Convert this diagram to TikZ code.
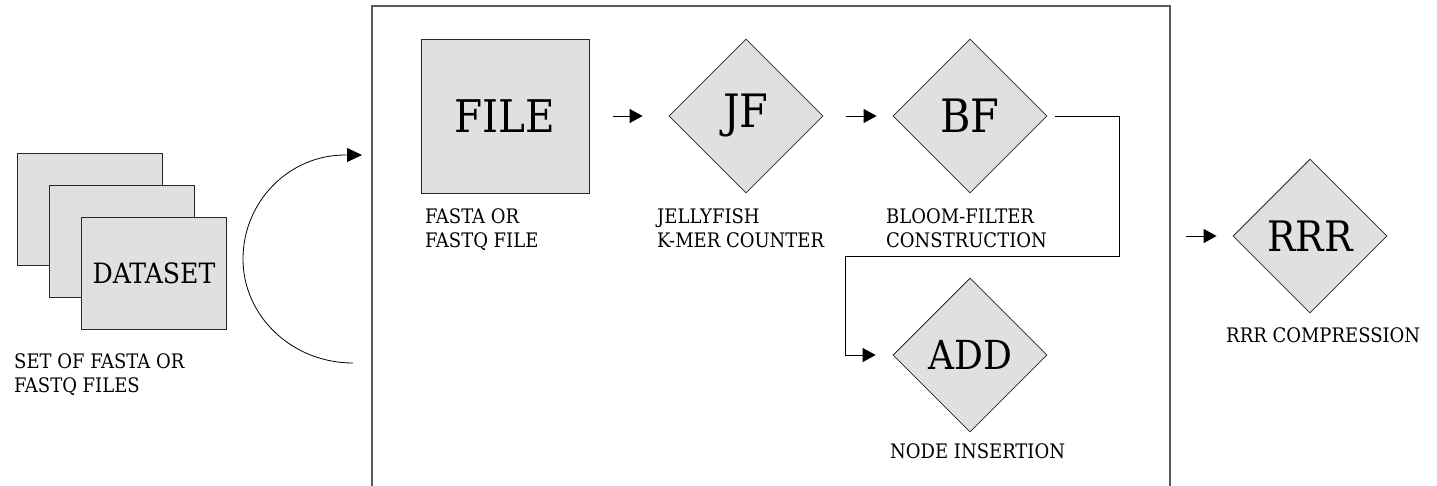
\documentclass[tikz,border=0pt]{standalone}
\usepackage{fontspec}
\setmainfont{DejaVu Serif Condensed}
\usetikzlibrary{arrows.meta,shapes.geometric}
\definecolor{shapefill}{RGB}{224,224,224}
\definecolor{shapeline}{RGB}{40,40,40}
\definecolor{frameline}{RGB}{90,90,90}
\tikzset{
	sheet/.style={draw=shapeline,fill=shapefill,line width=0.8pt,minimum width=145pt,minimum height=112pt,inner sep=0pt},
	stage/.style={diamond,aspect=1,draw=shapeline,fill=shapefill,line width=0.8pt,minimum width=154pt,minimum height=154pt,inner sep=0pt},
	caption/.style={anchor=north west,inner sep=0pt,align=left,font=\fontsize{20}{24}\selectfont},
	arr/.style={-{Triangle[length=13pt,width=14pt]},line width=1pt},
}

\begin{document}
\begin{tikzpicture}[x=1pt,y=-1pt]
		%%%%% START %%%%%
		\useasboundingbox (0,0) rectangle (1437,485);
		\clip (0,0) rectangle (1437,485);
		
		% input files
		\node[sheet] (sheetA) at (89.5,209) {};
		\node[sheet] (sheetB) at (121.5,241) {};
		\node[sheet,font=\fontsize{28}{32}\selectfont] (dataset) at (154,273) {DATASET};
		\node[caption] (datasetlbl) at (14,353) {SET OF FASTA OR\\FASTQ FILES};
		
		% loop over the files
		\coordinate (loopstart) at (353,363);
		\coordinate (loopend) at (362,155);
		\draw[-{Triangle[length=15pt,width=14pt]},line width=0.8pt] (loopstart) .. controls (292.3,363) and (243,316.4) .. (243,259) .. controls (243,201.6) and (289,155) .. (345,155) -- (loopend);
		
		% per file
		\draw[draw=frameline,line width=1.5pt] (372,6) rectangle (1170,500);
		
		\node[sheet,minimum width=168pt,minimum height=154pt,font=\fontsize{45}{50}\selectfont] (file) at (505,116) {FILE};
		\node[caption] (filelbl) at (425,208) {FASTA OR\\FASTQ FILE};
		
		\node[stage,font=\fontsize{46}{50}\selectfont] (jf) at (746,116) {JF};
		\node[caption] (jflbl) at (657,208) {JELLYFISH\\K-MER COUNTER};
		
		\node[stage,font=\fontsize{46}{50}\selectfont] (bf) at (970,116) {BF};
		\node[caption] (bflbl) at (886,208) {BLOOM-FILTER\\CONSTRUCTION};
		
		\node[stage,font=\fontsize{40}{44}\selectfont] (add) at (970,355) {ADD};
		\node[caption] (addlbl) at (890,443) {NODE INSERTION};
		
		\draw[arr] ([xshift=24pt]file.east) -- ([xshift=-26pt]jf.west);
		\draw[arr] ([xshift=23pt]jf.east) -- ([xshift=-16pt]bf.west);
		
		\coordinate (bendA) at (1119,256);
		\coordinate (bendB) at (845,256);
		\draw[arr] ([xshift=8pt]bf.east) -| (bendA) -- (bendB) |- ([xshift=-17pt]add.west);
		
		% after all files
		\node[stage,font=\fontsize{42}{46}\selectfont] (rrr) at (1310,236) {RRR};
		\node[caption] (rrrlbl) at (1226,327) {RRR COMPRESSION};
		\draw[arr] ([xshift=-47pt]rrr.west) -- ([xshift=-16pt]rrr.west);
		%%%%% END %%%%%
\end{tikzpicture}
\end{document}
